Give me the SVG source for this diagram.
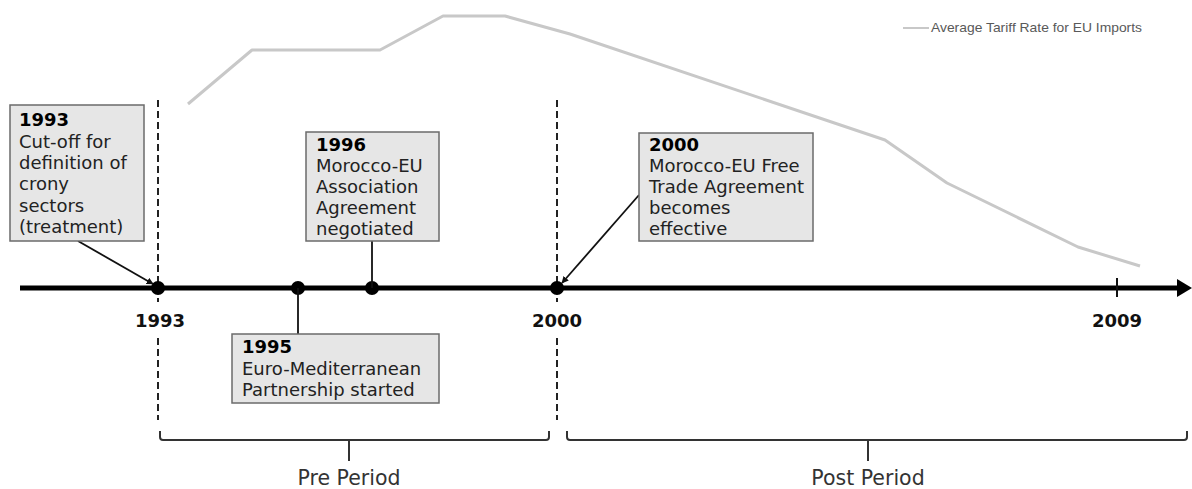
<svg xmlns="http://www.w3.org/2000/svg" width="1192" height="489" viewBox="0 0 1192 489">
<defs>
<style>
.box{fill:#e6e6e6;stroke:#6b6b6b;stroke-width:1.5}
.t{font-family:"DejaVu Sans",Verdana,sans-serif;font-size:18px;fill:#222}
.b{font-weight:bold;fill:#000}
.yr{font-family:"DejaVu Sans",Verdana,sans-serif;font-size:18px;font-weight:bold;fill:#111;text-anchor:middle}
.per{font-family:"DejaVu Sans",Verdana,sans-serif;font-size:20.5px;fill:#333;text-anchor:middle}
.dash{stroke:#222;stroke-width:2;stroke-dasharray:7 4;fill:none}
.conn{stroke:#111;stroke-width:1.8;fill:none}
.br{stroke:#333;stroke-width:2;fill:none}
</style>
<marker id="ah" viewBox="0 0 10 10" refX="9" refY="5" markerWidth="7" markerHeight="7" orient="auto" markerUnits="userSpaceOnUse">
<path d="M0,0 L10,5 L0,10 z" fill="#111"/>
</marker>
</defs>
<rect width="1192" height="489" fill="#fff"/>

<g id="tariff-line">
<polyline points="188,104 252,50 380,50 443,16 505,16 570,34 885,140 947,183 1078,247 1140,266" fill="none" stroke="#c8c8c8" stroke-width="3" stroke-linejoin="round"/>
</g>
<g id="legend">
<line x1="903" y1="28" x2="929" y2="28" stroke="#c8c8c8" stroke-width="2"/>
<text x="931" y="32" font-family="Liberation Sans,Arial,sans-serif" font-size="13" fill="#595959" textLength="211" lengthAdjust="spacingAndGlyphs">Average Tariff Rate for EU Imports</text>
</g>

<g id="guides">
<line class="dash" x1="158" y1="100" x2="158" y2="302"/>
<line class="dash" x1="158" y1="338" x2="158" y2="420"/>
<line class="dash" x1="557" y1="100" x2="557" y2="302"/>
<line class="dash" x1="557" y1="338" x2="557" y2="420"/>
</g>

<g id="timeline">
<line x1="20" y1="288" x2="1181" y2="288" stroke="#000" stroke-width="5"/>
<path d="M1177,279 L1192,288 L1177,297 z" fill="#000"/>
<line x1="1117" y1="278" x2="1117" y2="297" stroke="#111" stroke-width="2"/>
<circle cx="158" cy="288" r="7" fill="#000"/>
<circle cx="298" cy="288" r="7" fill="#000"/>
<circle cx="372" cy="288" r="7" fill="#000"/>
<circle cx="557" cy="288" r="7" fill="#000"/>
<text class="yr" x="160" y="327">1993</text>
<text class="yr" x="557" y="327">2000</text>
<text class="yr" x="1117" y="327">2009</text>
</g>

<g id="connectors">
<line class="conn" x1="78" y1="241" x2="153" y2="284" marker-end="url(#ah)"/>
<line class="conn" x1="639" y1="195" x2="562" y2="283" marker-end="url(#ah)"/>
<line class="conn" x1="372" y1="241" x2="372" y2="288"/>
<line class="conn" x1="298" y1="288" x2="298" y2="334"/>
</g>

<g id="box1993">
<rect class="box" x="10" y="105" width="134" height="136"/>
<text class="t" x="19" y="126"><tspan class="b">1993</tspan><tspan x="19" y="148">Cut-off for</tspan><tspan x="19" y="169">definition of</tspan><tspan x="19" y="190">crony</tspan><tspan x="19" y="212">sectors</tspan><tspan x="19" y="233">(treatment)</tspan></text>
</g>

<g id="box1996">
<rect class="box" x="306" y="132" width="133" height="109"/>
<text class="t" x="316" y="151"><tspan class="b">1996</tspan><tspan x="316" y="172">Morocco-EU</tspan><tspan x="316" y="193">Association</tspan><tspan x="316" y="214">Agreement</tspan><tspan x="316" y="235">negotiated</tspan></text>
</g>

<g id="box1995">
<rect class="box" x="232" y="334" width="207" height="69"/>
<text class="t" x="242" y="353"><tspan class="b">1995</tspan><tspan x="242" y="375">Euro-Mediterranean</tspan><tspan x="242" y="396">Partnership started</tspan></text>
</g>

<g id="box2000">
<rect class="box" x="639" y="133" width="174" height="108"/>
<text class="t" x="649" y="151"><tspan class="b">2000</tspan><tspan x="649" y="172">Morocco-EU Free</tspan><tspan x="649" y="193">Trade Agreement</tspan><tspan x="649" y="214">becomes</tspan><tspan x="649" y="235">effective</tspan></text>
</g>

<g id="pre-period">
<path class="br" d="M160,431 V437 Q160,440 163,440 H546 Q549,440 549,437 V431"/>
<line class="br" x1="349" y1="440" x2="349" y2="461"/>
<text class="per" x="349" y="485">Pre Period</text>
</g>

<g id="post-period">
<path class="br" d="M567,431 V437 Q567,440 570,440 H1184 Q1187,440 1187,437 V431"/>
<line class="br" x1="868" y1="440" x2="868" y2="461"/>
<text class="per" x="868" y="485">Post Period</text>
</g>
</svg>
